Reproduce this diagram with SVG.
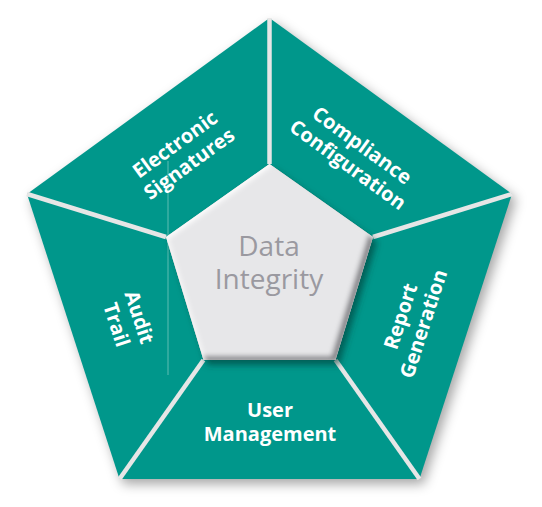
<svg xmlns="http://www.w3.org/2000/svg" width="542" height="507" viewBox="0 0 542 507">
  <defs>
    <filter id="outerShadow" x="-20%" y="-20%" width="140%" height="140%">
      <feGaussianBlur in="SourceAlpha" stdDeviation="6"/>
      <feOffset dx="4" dy="5" result="b"/>
      <feFlood flood-color="#000" flood-opacity="0.35"/>
      <feComposite in2="b" operator="in"/>
    </filter>
    <filter id="innerShadow" x="-20%" y="-20%" width="140%" height="140%">
      <feGaussianBlur in="SourceAlpha" stdDeviation="3"/>
      <feOffset dx="4" dy="5" result="b"/>
      <feFlood flood-color="#003a34" flood-opacity="0.6"/>
      <feComposite in2="b" operator="in"/>
    </filter>
    <filter id="bevel" x="-10%" y="-10%" width="120%" height="120%">
      <feGaussianBlur in="SourceAlpha" stdDeviation="2.5" result="blur"/>
      <feOffset in="blur" dx="-4" dy="-4" result="o1"/>
      <feComposite in="SourceAlpha" in2="o1" operator="out" result="edgeDark"/>
      <feFlood flood-color="#6f6f74" flood-opacity="0.9"/>
      <feComposite in2="edgeDark" operator="in" result="dark"/>
      <feOffset in="blur" dx="2" dy="2" result="o2"/>
      <feComposite in="SourceAlpha" in2="o2" operator="out" result="edgeLight"/>
      <feFlood flood-color="#ffffff" flood-opacity="0.9"/>
      <feComposite in2="edgeLight" operator="in" result="light"/>
      <feMerge>
        <feMergeNode in="SourceGraphic"/>
        <feMergeNode in="dark"/>
        <feMergeNode in="light"/>
      </feMerge>
    </filter>
  </defs>
  <style>
    .seg { fill: #00978b; }
    .lbl { font-family: "Open Sans", "Noto Sans", "Liberation Sans", sans-serif; font-weight: 700; font-size: 20px; fill: #ffffff; text-anchor: middle; }
    .div { stroke: #e6e6e6; stroke-width: 4.5; stroke-linecap: butt; }
    .center { font-family: "Open Sans", "Noto Sans", "Liberation Sans", sans-serif; font-weight: 400; font-size: 28px; fill: #9a99a0; text-anchor: middle; }
  </style>

  <!-- outer shadow -->
  <polygon points="269.5,18 512,194 419.5,479 119.5,479 27,194" filter="url(#outerShadow)"/>

  <g id="electronic-signatures">
    <polygon class="seg" points="269.5,18 269.5,164 166,237 27,194"/>
  </g>
  <g id="compliance-configuration">
    <polygon class="seg" points="269.5,18 512,194 373,237 269.5,164"/>
  </g>
  <g id="report-generation">
    <polygon class="seg" points="512,194 419.5,479 335.5,360 373,237"/>
  </g>
  <g id="user-management">
    <polygon class="seg" points="419.5,479 119.5,479 203.5,360 335.5,360"/>
  </g>
  <g id="audit-trail">
    <polygon class="seg" points="119.5,479 27,194 166,237 203.5,360"/>
  </g>

  <line x1="168" y1="161" x2="168" y2="375" stroke="#5ebdb3" stroke-width="1"/>

  <g id="dividers">
    <line class="div" x1="269.5" y1="18" x2="269.5" y2="164"/>
    <line class="div" x1="512" y1="194" x2="373" y2="237"/>
    <line class="div" x1="419.5" y1="479" x2="335.5" y2="360"/>
    <line class="div" x1="119.5" y1="479" x2="203.5" y2="360"/>
    <line class="div" x1="27" y1="194" x2="166" y2="237"/>
  </g>

  <g id="data-integrity">
    <polygon points="269.5,164 373,237 335.5,360 203.5,360 166,237" filter="url(#innerShadow)"/>
    <polygon points="269.5,164 373,237 335.5,360 203.5,360 166,237" fill="#e7e7e9" filter="url(#bevel)"/>
    <text class="center"><tspan x="269" y="256">Data</tspan><tspan x="269" y="289">Integrity</tspan></text>
  </g>

  <g id="labels">
    <text class="lbl" transform="translate(182,154) rotate(-36)"><tspan x="0" y="-5">Electronic</tspan><tspan x="0" y="19">Signatures</tspan></text>
    <text class="lbl" transform="translate(355,155) rotate(36)"><tspan x="0" y="-5">Compliance</tspan><tspan x="0" y="19">Configuration</tspan></text>
    <text class="lbl" transform="translate(412,320) rotate(-72)"><tspan x="0" y="-5">Report</tspan><tspan x="0" y="19">Generation</tspan></text>
    <text class="lbl" transform="translate(128,321) rotate(72)"><tspan x="0" y="-5">Audit</tspan><tspan x="0" y="19">Trail</tspan></text>
    <text class="lbl"><tspan x="270" y="417">User</tspan><tspan x="270" y="441">Management</tspan></text>
  </g>
</svg>
